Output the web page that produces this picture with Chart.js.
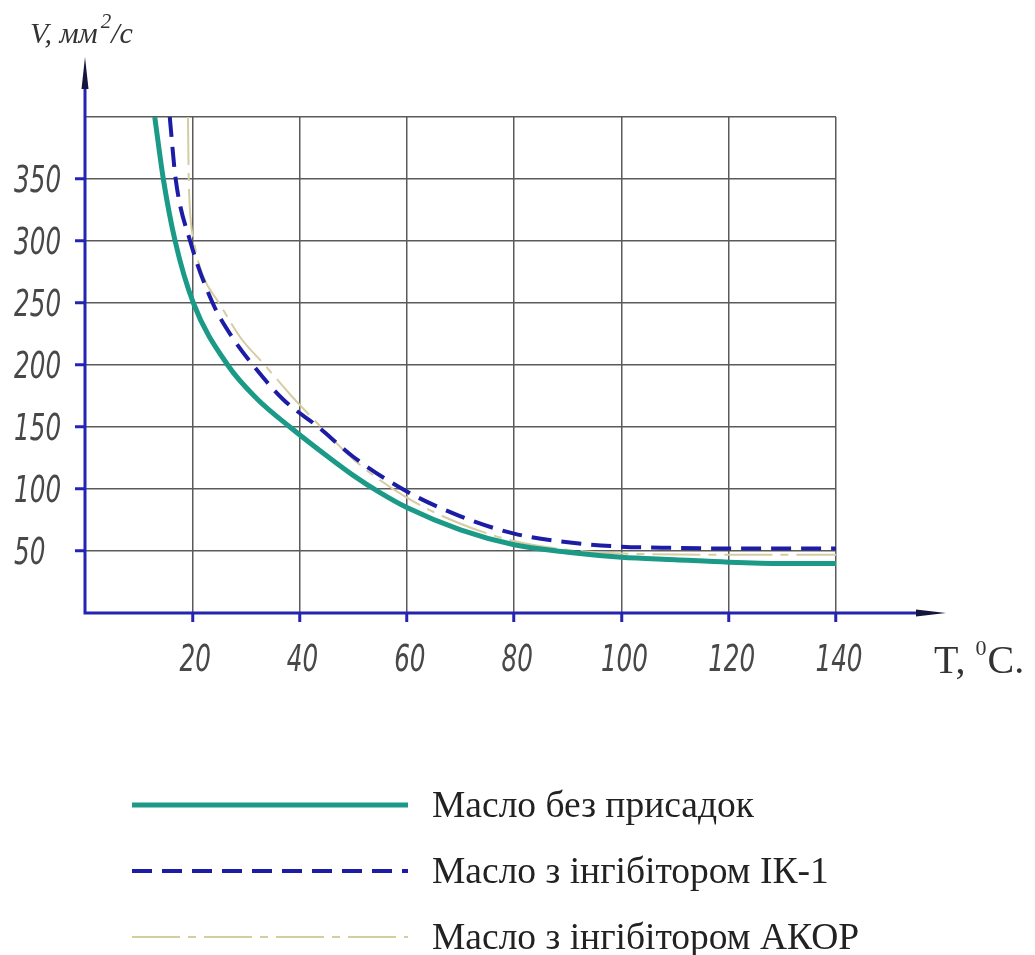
<!DOCTYPE html>
<html>
<head>
<meta charset="utf-8">
<title>В'язкість масла</title>
<script src="https://cdn.jsdelivr.net/npm/chart.js@4.4.1/dist/chart.umd.min.js"></script>
<style>
  html, body { margin: 0; padding: 0; background: #fff; }
  #viscosity-chart { display: block; }
</style>
</head>
<body>
<canvas id="viscosity-chart" width="1035" height="955"></canvas>
<script>
// Kinematic viscosity (mm2/s) vs temperature (°C)
const seriesNames = ['Масло без присадок', 'Масло з інгібітором ІК-1', 'Масло з інгібітором АКОР'];

const tempPlain = [13, 14.6, 16.8, 20.2, 26.6, 32, 38.2, 45.6, 50, 55, 60, 70, 80, 90, 100, 110, 120, 130, 140];
const viscPlain = [400, 350, 300, 250, 200, 173, 150, 125, 111, 97, 85, 67, 55, 49, 45, 43, 41, 40, 40];

const tempIk1 = [15.8, 16.9, 19.6, 23.8, 27.5, 31.3, 37, 43.5, 50, 60, 70, 80, 90, 100, 110, 120, 140];
const viscIk1 = [400, 350, 300, 250, 222, 200, 172, 150, 126, 98, 78, 64, 57, 53.5, 52.5, 52, 52];

const tempAkor = [19.2, 19.3, 19.5, 20.3, 22, 25, 29, 33.5, 38.5, 44, 50, 60, 70, 80, 90, 100, 120, 140];
const viscAkor = [400, 360, 330, 300, 272, 250, 222, 200, 175, 150, 124, 93, 72, 58, 51, 48, 47, 47];

const xTickValues = [20, 40, 60, 80, 100, 120, 140];
const yTickValues = [50, 100, 150, 200, 250, 300, 350];

const AXIS_BLUE = '#2424b2';
const TICK_FONT = "italic 200 37px 'DejaVu Sans Condensed', 'DejaVu Sans', sans-serif";

const toPoints = (xs, ys) => xs.map((t, i) => ({ x: t, y: ys[i] }));

// narrow slanted digits, squeezed horizontally
function drawNarrow(ctx, text, x, y, align) {
    ctx.save();
    ctx.font = TICK_FONT;
    const sx = 15.7 / ctx.measureText('0').width;
    const w = ctx.measureText(text).width * sx;
    const left = align === 'center' ? x - w / 2 : x;
    ctx.translate(left, y);
    ctx.scale(sx, 1);
    ctx.textAlign = 'left';
    ctx.textBaseline = 'middle';
    ctx.fillText(text, 0, 0);
    ctx.restore();
}

// axis lines with arrows, tick labels, axis titles and the legend underneath
const notesPlugin = {
    id: 'notes',
    afterDraw(chart) {
        const { ctx, scales: { x, y } } = chart;
        const x0 = x.getPixelForValue(0);
        const y0 = y.getPixelForValue(0);
        const yTop = y.getPixelForValue(400);
        const xEnd = x.getPixelForValue(140);

        ctx.save();
        ctx.strokeStyle = AXIS_BLUE;
        ctx.lineWidth = 3;
        ctx.beginPath();
        ctx.moveTo(x0, y0 + 1.5);
        ctx.lineTo(x0, yTop - 30);
        ctx.moveTo(x0 - 1.5, y0);
        ctx.lineTo(xEnd + 82, y0);
        ctx.stroke();

        ctx.fillStyle = '#16163c';
        ctx.beginPath();
        ctx.moveTo(x0, yTop - 60);
        ctx.lineTo(x0 - 3.5, yTop - 28);
        ctx.lineTo(x0 + 3.5, yTop - 28);
        ctx.closePath();
        ctx.fill();
        ctx.beginPath();
        ctx.moveTo(xEnd + 110, y0);
        ctx.lineTo(xEnd + 80, y0 - 3.5);
        ctx.lineTo(xEnd + 80, y0 + 3.5);
        ctx.closePath();
        ctx.fill();

        // tick labels
        ctx.fillStyle = '#484848';
        yTickValues.forEach(v => drawNarrow(ctx, String(v), 14, y.getPixelForValue(v) + 3, 'left'));
        xTickValues.forEach(v => drawNarrow(ctx, String(v), x.getPixelForValue(v) + 3, y0 + 48, 'center'));

        // y title: V, мм²/с
        ctx.fillStyle = '#333';
        ctx.textBaseline = 'alphabetic';
        ctx.textAlign = 'left';
        ctx.font = "italic 30px 'Liberation Serif', serif";
        let tx = 30;
        ctx.fillText('V, мм', tx, 43);
        tx += ctx.measureText('V, мм').width + 3;
        ctx.font = "italic 21px 'Liberation Serif', serif";
        ctx.fillText('2', tx, 28);
        tx += ctx.measureText('2').width;
        ctx.font = "italic 30px 'Liberation Serif', serif";
        ctx.fillText('/c', tx, 43);

        // x title: T, °C.
        ctx.font = "40px 'Liberation Serif', serif";
        tx = 934;
        ctx.fillText('T,', tx, 673);
        tx += ctx.measureText('T, ').width;
        ctx.font = "22px 'Liberation Serif', serif";
        ctx.fillText('0', tx, 655);
        tx += ctx.measureText('0').width + 1;
        ctx.font = "40px 'Liberation Serif', serif";
        ctx.fillText('C.', tx, 673);

        // legend rows
        const rowY = [805, 871, 937];
        chart.data.datasets.forEach((ds, i) => {
            ctx.strokeStyle = ds.borderColor;
            ctx.lineWidth = ds.borderWidth;
            ctx.setLineDash(ds.borderDash || []);
            ctx.beginPath();
            ctx.moveTo(132, rowY[i]);
            ctx.lineTo(408, rowY[i]);
            ctx.stroke();
            ctx.setLineDash([]);
            ctx.fillStyle = '#222';
            ctx.font = "37.5px 'Liberation Serif', serif";
            ctx.textBaseline = 'middle';
            ctx.fillText(ds.label, 432, rowY[i] + 2);
        });
        ctx.restore();
    }
};

new Chart(document.getElementById('viscosity-chart'), {
    type: 'line',
    data: {
        datasets: [
            {
                label: seriesNames[0],
                data: toPoints(tempPlain, viscPlain),
                borderColor: '#1b9a87',
                borderWidth: 5,
                pointRadius: 0,
                cubicInterpolationMode: 'monotone'
            },
            {
                label: seriesNames[1],
                data: toPoints(tempIk1, viscIk1),
                borderColor: '#1c1ca6',
                borderWidth: 4,
                borderDash: [20, 10],
                pointRadius: 0,
                cubicInterpolationMode: 'monotone'
            },
            {
                label: seriesNames[2],
                data: toPoints(tempAkor, viscAkor),
                borderColor: '#d6cca2',
                borderWidth: 2,
                borderDash: [48, 8, 8, 8],
                pointRadius: 0,
                cubicInterpolationMode: 'monotone'
            }
        ]
    },
    options: {
        responsive: false,
        animation: false,
        layout: { padding: { left: 0, top: 117, right: 199, bottom: 282 } },
        plugins: { legend: { display: false }, tooltip: { enabled: false } },
        scales: {
            x: {
                type: 'linear',
                min: 0,
                max: 140,
                afterFit: s => { s.height = 60; },
                border: { display: false },
                grid: {
                    color: '#5a5a5a',
                    lineWidth: 1.5,
                    tickLength: 9,
                    tickWidth: 3,
                    tickColor: c => xTickValues.includes(c.tick.value) ? AXIS_BLUE : 'transparent'
                },
                ticks: { stepSize: 20, display: false }
            },
            y: {
                min: 0,
                max: 400,
                afterFit: s => { s.width = 85; },
                border: { display: false },
                grid: {
                    color: '#5a5a5a',
                    lineWidth: 1.5,
                    tickLength: 10,
                    tickWidth: 3,
                    tickColor: c => yTickValues.includes(c.tick.value) ? AXIS_BLUE : 'transparent'
                },
                ticks: { stepSize: 50, display: false }
            }
        }
    },
    plugins: [notesPlugin]
});
</script>
</body>
</html>
